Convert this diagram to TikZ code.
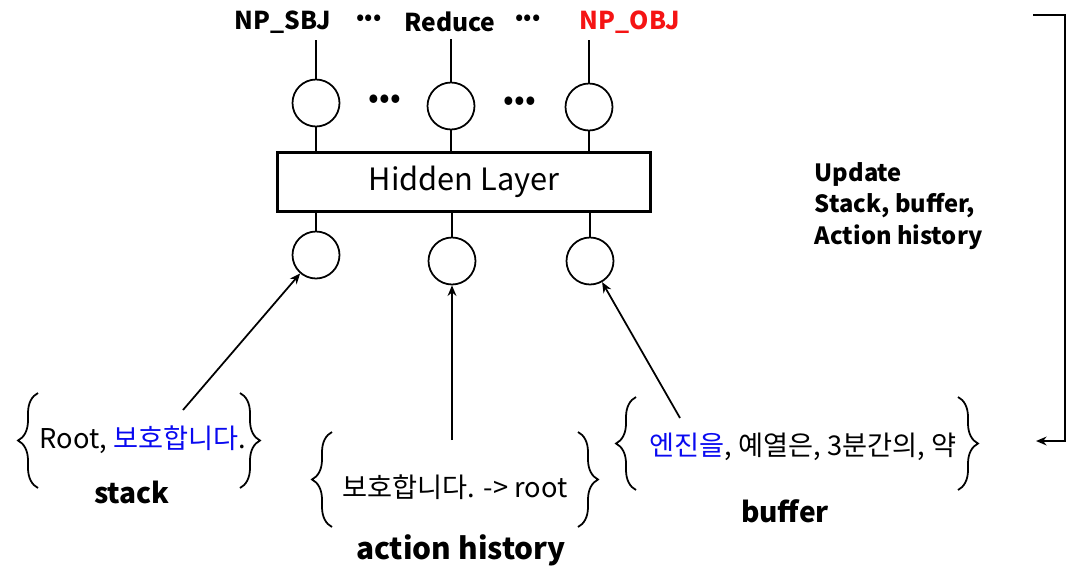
\documentclass[tikz,border=0pt]{standalone}
\usepackage{fontspec}
\setmainfont{Noto Sans CJK KR}
\usetikzlibrary{arrows.meta,decorations.pathreplacing}
\definecolor{kblue}{RGB}{10,10,240}
\definecolor{kred}{RGB}{245,20,20}
\begin{document}
\begin{tikzpicture}[x=0.02cm,y=-0.02cm,line width=1pt,
  unit/.style={draw,circle,minimum size=0.94cm,inner sep=0pt},
  layer/.style={draw,line width=1.6pt,minimum width=7.45cm,minimum height=1.18cm,inner sep=0pt,font=\fontsize{17.5}{20}\selectfont},
  toplab/.style={font=\fontsize{14}{17}\selectfont\bfseries},
  dots/.style={font=\fontsize{14}{14}\selectfont},
  word/.style={font=\fontsize{15.5}{18}\selectfont},
  title/.style={font=\fontsize{16}{19}\selectfont\bfseries},
  lbrace/.style={decorate,decoration={brace,amplitude=0.4cm}},
  arr/.style={-{Stealth[length=6pt,width=5pt]}}]
\useasboundingbox (0,0) rectangle (1068,569);

\node[toplab] (sbj) at (283,22) {NP\_SBJ};
\node[dots] (d1) at (369,20) {•••};
\node[toplab] (red) at (450,22) {Reduce};
\node[dots] (d2) at (528,20) {•••};
\node[toplab,text=kred] (obj) at (630,22) {NP\_OBJ};

\node[unit] (o1) at (316,103) {};
\node[unit] (o2) at (451,106) {};
\node[unit] (o3) at (589,107) {};
\node[toplab,font=\fontsize{18}{20}\selectfont] (d3) at (385,102) {•••};
\node[toplab,font=\fontsize{18}{20}\selectfont] (d4) at (520,104) {•••};

\node[layer] (hid) at (464,182) {Hidden Layer};

\node[unit] (i1) at (316,255) {};
\node[unit] (i2) at (452,261) {};
\node[unit] (i3) at (590,261) {};

\draw (o1) -- (o1 |- sbj.south);
\draw (o2) -- (o2 |- red.south);
\draw (o3) -- (o3 |- obj.south);
\draw (o1) -- (o1 |- hid.north);
\draw (o2) -- (o2 |- hid.north);
\draw (o3) -- (o3 |- hid.north);
\draw (i1) -- (i1 |- hid.south);
\draw (i2) -- (i2 |- hid.south);
\draw (i3) -- (i3 |- hid.south);

\node[word] (stk) at (143,440) {Root, \textcolor{kblue}{보호합니다}.};
\node[title] (stkname) at (132,492) {stack};
\draw[lbrace] (38,488) -- (38,393);
\draw[lbrace] (240,393) -- (240,488);

\node[word] (act) at (455,487) {보호합니다. -> root};
\node[title,font=\fontsize{17}{20}\selectfont\bfseries] (actname) at (461,550) {action history};
\draw[lbrace] (332,527) -- (332,432);
\draw[lbrace] (578,432) -- (578,527);

\node[word] (buf) at (803,447) {\textcolor{kblue}{엔진을}, 예열은, 3분간의, 약};
\node[title] (bufname) at (785,511) {buffer};
\draw[lbrace] (636,490) -- (636,397);
\draw[lbrace] (958,397) -- (958,490);

\coordinate (sa) at (183,410);
\coordinate (aa) at (452,440);
\coordinate (ba) at (680,418);
\draw[arr] (sa) -- (i1);
\draw[arr] (aa) -- (i2);
\draw[arr] (ba) -- (i3);

\node[toplab,font=\fontsize{13.5}{17.8}\selectfont\bfseries,align=left,anchor=north west] (upd) at (808,156) {Update\\Stack, buffer,\\Action history};

\coordinate (fa) at (1033,15);
\coordinate (fb) at (1065,441);
\coordinate (fc) at (1036,441);
\draw[arr] (fa) -| (fb) -- (fc);
\end{tikzpicture}
\end{document}
